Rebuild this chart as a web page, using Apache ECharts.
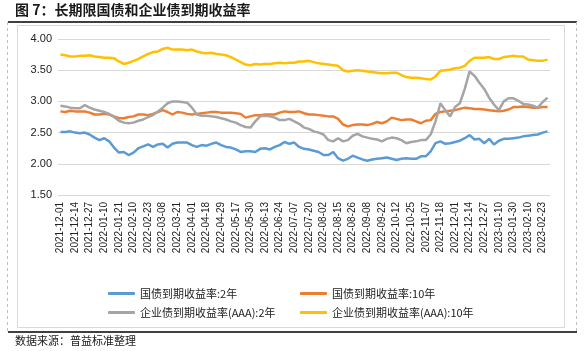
<!DOCTYPE html>
<html><head><meta charset="utf-8">
<script src="https://cdn.jsdelivr.net/npm/echarts@6/dist/echarts.min.js"></script>
<style>html,body{margin:0;padding:0;background:#fff}#c{width:585px;height:351px}</style>
</head><body><div id="c"></div>
<script>
const categories = [
"2021-12-01","2021-12-06","2021-12-09","2021-12-14","2021-12-17","2021-12-22","2021-12-27","2021-12-30","2022-01-05",
"2022-01-10","2022-01-13","2022-01-18","2022-01-21","2022-01-26","2022-02-07","2022-02-10","2022-02-15","2022-02-18",
"2022-02-23","2022-02-28","2022-03-03","2022-03-08","2022-03-11","2022-03-16","2022-03-21","2022-03-24","2022-03-29",
"2022-04-01","2022-04-08","2022-04-13","2022-04-18","2022-04-21","2022-04-26","2022-04-29","2022-05-09","2022-05-12",
"2022-05-17","2022-05-20","2022-05-25","2022-05-30","2022-06-02","2022-06-08","2022-06-13","2022-06-16","2022-06-21",
"2022-06-24","2022-06-29","2022-07-04","2022-07-07","2022-07-12","2022-07-15","2022-07-20","2022-07-25","2022-07-28",
"2022-08-02","2022-08-05","2022-08-10","2022-08-15","2022-08-18","2022-08-23","2022-08-26","2022-08-31","2022-09-05",
"2022-09-08","2022-09-14","2022-09-19","2022-09-22","2022-09-27","2022-09-30","2022-10-12","2022-10-17","2022-10-20",
"2022-10-25","2022-10-28","2022-11-02","2022-11-07","2022-11-10","2022-11-15","2022-11-18","2022-11-23","2022-11-28",
"2022-12-01","2022-12-06","2022-12-09","2022-12-14","2022-12-19","2022-12-22","2022-12-27","2022-12-30","2023-01-05",
"2023-01-10","2023-01-13","2023-01-18","2023-01-30","2023-02-02","2023-02-07","2023-02-10","2023-02-15","2023-02-20",
"2023-02-23","2023-02-28"
];
const seriesNames = ["国债到期收益率:2年","国债到期收益率:10年","企业债到期收益率(AAA):2年","企业债到期收益率(AAA):10年"];
const gov2y = [
2.51,2.51,2.52,2.50,2.49,2.50,2.47,2.42,2.38,2.41,2.36,2.26,2.18,2.19,2.14,2.18,2.25,2.28,2.31,2.27,
2.31,2.32,2.26,2.32,2.34,2.34,2.34,2.30,2.27,2.30,2.29,2.32,2.34,2.30,2.27,2.26,2.23,2.19,2.20,2.20,
2.19,2.24,2.25,2.23,2.27,2.30,2.35,2.32,2.34,2.27,2.24,2.23,2.21,2.19,2.14,2.14,2.19,2.09,2.05,2.08,
2.13,2.10,2.07,2.05,2.07,2.08,2.09,2.10,2.08,2.06,2.08,2.09,2.08,2.08,2.12,2.12,2.20,2.33,2.36,2.32,
2.33,2.35,2.37,2.41,2.46,2.39,2.40,2.33,2.40,2.31,2.37,2.40,2.40,2.41,2.42,2.44,2.45,2.46,2.47,2.50,2.52
];
const gov10y = [
2.84,2.83,2.85,2.84,2.84,2.84,2.82,2.79,2.79,2.80,2.79,2.76,2.73,2.73,2.75,2.76,2.79,2.79,2.78,2.80,
2.83,2.86,2.83,2.79,2.83,2.82,2.80,2.79,2.80,2.81,2.82,2.83,2.83,2.82,2.82,2.82,2.81,2.80,2.74,2.76,
2.78,2.78,2.79,2.79,2.79,2.82,2.84,2.83,2.83,2.84,2.81,2.79,2.79,2.78,2.77,2.76,2.76,2.72,2.63,2.60,
2.62,2.63,2.63,2.62,2.64,2.67,2.65,2.68,2.74,2.72,2.70,2.71,2.71,2.68,2.65,2.69,2.70,2.80,2.83,2.84,
2.85,2.86,2.88,2.90,2.89,2.88,2.88,2.87,2.86,2.85,2.84,2.85,2.87,2.91,2.91,2.92,2.91,2.90,2.90,2.91,2.91
];
const corp2y = [
2.93,2.92,2.90,2.89,2.89,2.94,2.90,2.87,2.85,2.83,2.80,2.75,2.69,2.66,2.65,2.66,2.69,2.71,2.75,2.78,
2.84,2.90,2.97,3.00,3.00,2.99,2.98,2.90,2.79,2.77,2.77,2.76,2.75,2.73,2.71,2.68,2.66,2.62,2.59,2.58,
2.68,2.76,2.77,2.76,2.74,2.70,2.70,2.72,2.68,2.64,2.58,2.56,2.52,2.50,2.47,2.38,2.36,2.41,2.36,2.38,
2.45,2.48,2.44,2.42,2.40,2.39,2.36,2.40,2.42,2.41,2.38,2.33,2.35,2.36,2.38,2.38,2.47,2.68,2.97,2.86,
2.76,2.91,2.97,3.20,3.48,3.41,3.30,3.20,3.06,2.95,2.86,3.00,3.05,3.05,3.01,2.96,2.95,2.93,2.90,2.99,3.06
];
const corp10y = [
3.75,3.74,3.72,3.72,3.73,3.73,3.74,3.72,3.71,3.70,3.70,3.69,3.64,3.60,3.62,3.65,3.68,3.72,3.76,3.79,
3.80,3.84,3.86,3.83,3.83,3.83,3.82,3.83,3.80,3.78,3.77,3.78,3.76,3.75,3.74,3.71,3.67,3.63,3.59,3.58,
3.60,3.59,3.60,3.60,3.61,3.62,3.61,3.62,3.62,3.64,3.64,3.65,3.63,3.61,3.60,3.59,3.58,3.57,3.50,3.48,
3.49,3.50,3.49,3.48,3.47,3.46,3.45,3.45,3.46,3.46,3.42,3.39,3.38,3.38,3.37,3.36,3.35,3.40,3.49,3.50,
3.51,3.53,3.54,3.57,3.65,3.70,3.70,3.70,3.71,3.68,3.68,3.71,3.72,3.73,3.72,3.72,3.67,3.66,3.65,3.65,3.67
];
const yTicks = {min:1.5, max:4.0, interval:0.5};
const colors = ["#5B9BD5","#ED7D31","#A5A5A5","#FFC000"];
const seriesData = [gov2y, gov10y, corp2y, corp10y];

const chart = echarts.init(document.getElementById('c'), null, {renderer:'canvas'});
const legendPos = [[103,283],[295,283],[103,302],[295,302]];
const txtFont = '"Noto Sans CJK SC", sans-serif';
chart.setOption({
  animation:false,
  backgroundColor:'#fff',
  grid:{left:58, right:35, top:39, bottom:156, containLabel:false},
  xAxis:{type:'category', data:categories, boundaryGap:true,
    axisLine:{show:false}, axisTick:{show:false},
    axisLabel:{interval:2, rotate:90, fontSize:10, color:'#222', margin:7, fontFamily:'"Liberation Sans", Arial, sans-serif'}},
  yAxis:{type:'value', min:yTicks.min, max:yTicks.max, interval:yTicks.interval,
    axisLine:{show:false}, axisTick:{show:false},
    splitLine:{lineStyle:{color:'#d9d9d9', width:1}},
    axisLabel:{formatter:v=>v.toFixed(2), fontSize:11, color:'#222', margin:6, fontFamily:'"Liberation Sans", Arial, sans-serif'}},
  legend: seriesNames.map((n,i)=>({data:[n], left:legendPos[i][0], top:legendPos[i][1], icon:'roundRect',
    itemWidth:27, itemHeight:3, itemGap:6, textStyle:{fontSize:11, color:'#222', fontFamily:txtFont}})),
  series: seriesNames.map((n,i)=>({name:n, type:'line', data:seriesData[i], showSymbol:false, symbol:'none',
    lineStyle:{color:colors[i], width:2.5}, itemStyle:{color:colors[i]}, z:2+i})),
  graphic:[
    {type:'text', left:15, top:3, style:{text:'图 7：长期限国债和企业债到期收益率', font:'bold 14px "Noto Sans CJK SC", sans-serif', fill:'#1a1a1a'}},
    {type:'line', shape:{x1:8,y1:22,x2:577,y2:22}, style:{stroke:'#000', lineWidth:1.5}},
    {type:'rect', shape:{x:17.5,y:25.5,width:547,height:302}, style:{fill:'none', stroke:'#d9d9d9', lineWidth:1}},
    {type:'line', shape:{x1:7.5,y1:22,x2:7.5,y2:332}, style:{stroke:'#bfbfbf', lineWidth:1, lineDash:[3,3]}},
    {type:'line', shape:{x1:576.5,y1:22,x2:576.5,y2:332}, style:{stroke:'#bfbfbf', lineWidth:1, lineDash:[3,3]}},
    {type:'line', shape:{x1:8,y1:332,x2:577,y2:332}, style:{stroke:'#000', lineWidth:1.5}},
    {type:'text', left:15, top:335, style:{text:'数据来源：普益标准整理', font:'11px "Noto Sans CJK SC", sans-serif', fill:'#1a1a1a'}}
  ]
});
</script></body></html>
